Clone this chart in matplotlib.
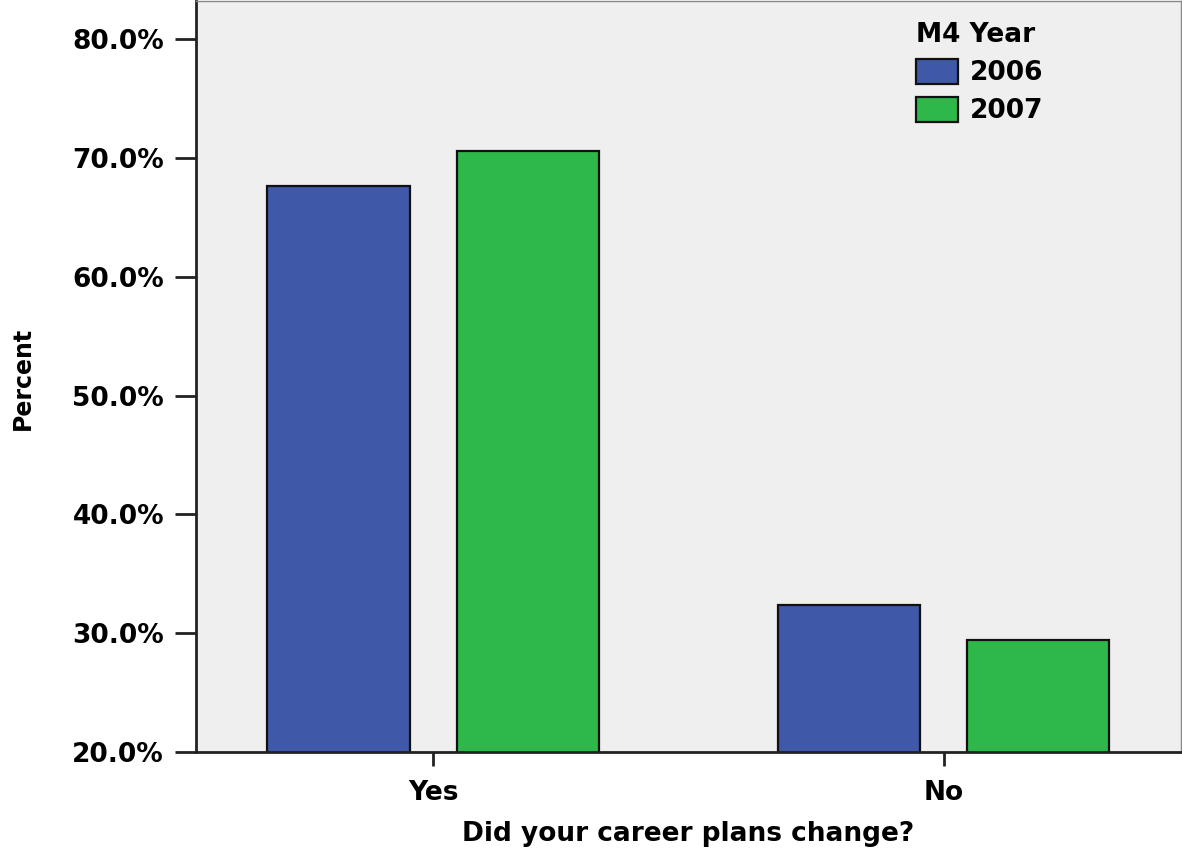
import matplotlib.pyplot as plt
import numpy as np

categories = ["Yes", "No"]
years = ["2006", "2007"]
pct_2006 = [67.6, 32.4]
pct_2007 = [70.6, 29.4]

colors = ["#3f58a8", "#2fb84a"]

fig = plt.figure(figsize=(11.82, 8.51), dpi=100)
ax = fig.add_axes([0.1658, 0.1163, 0.8333, 0.8825])
ax.set_facecolor("#efefef")

x = np.arange(len(categories))
w = 0.278
off = 0.185
ax.bar(x - off, pct_2006, w, bottom=0, color=colors[0], edgecolor="#111111",
       linewidth=1.6, label=years[0], zorder=2)
ax.bar(x + off, pct_2007, w, bottom=0, color=colors[1], edgecolor="#111111",
       linewidth=1.6, label=years[1], zorder=2)

fs = 19
ax.set_ylim(20, 83.2)
ax.set_xlim(-0.464, 1.464)
ax.set_yticks([20, 30, 40, 50, 60, 70, 80])
ax.set_yticklabels(["%.1f%%" % v for v in [20, 30, 40, 50, 60, 70, 80]],
                   fontsize=fs, fontweight="bold")
ax.set_xticks(x)
ax.set_xticklabels(categories, fontsize=fs, fontweight="bold")
ax.tick_params(axis="y", length=15, width=2, pad=8, color="#222222")
ax.tick_params(axis="x", length=10, width=2, pad=10, color="#222222")

for s in ["left", "bottom"]:
    ax.spines[s].set_linewidth(2)
    ax.spines[s].set_color("#222222")
for s in ["top", "right"]:
    ax.spines[s].set_linewidth(1)
    ax.spines[s].set_color("#888888")

ax.set_xlabel("Did your career plans change?", fontsize=fs, fontweight="bold",
              labelpad=11)
fig.text(0.019, 0.555, "Percent", rotation=90, fontsize=17, fontweight="bold",
         family=["Liberation Sans Narrow", "DejaVu Sans"], ha="center", va="center")

leg = ax.legend(title="M4 Year", frameon=False, loc="upper left",
                bbox_to_anchor=(0.731, 0.972), fontsize=fs, handlelength=1.6,
                handleheight=1.1, handletextpad=0.45, labelspacing=0.4,
                borderaxespad=0, borderpad=0)
leg.get_title().set_fontsize(fs)
leg.get_title().set_fontweight("bold")
for t in leg.get_texts():
    t.set_fontweight("bold")
leg._legend_box.align = "left"

fig.savefig("out.png", dpi=100)
